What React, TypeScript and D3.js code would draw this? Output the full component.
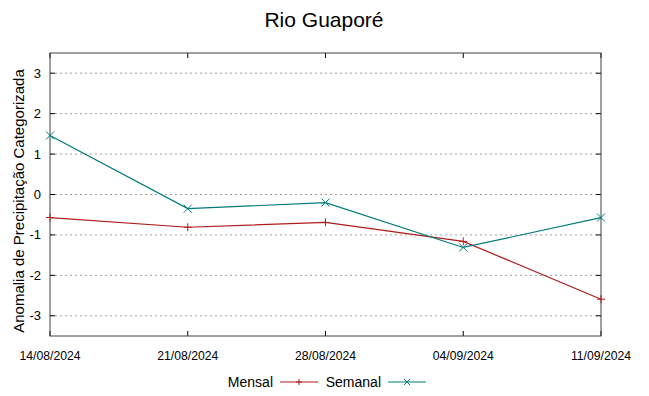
import React, { useEffect, useRef } from "react";
import * as d3 from "d3";

const dates = ["14/08/2024", "21/08/2024", "28/08/2024", "04/09/2024", "11/09/2024"];
const mensal = [-0.57, -0.81, -0.69, -1.16, -2.59];
const semanal = [1.46, -0.35, -0.2, -1.31, -0.57];
const yTicks = [-3, -2, -1, 0, 1, 2, 3];

const width = 649;
const height = 396;
const margin = { top: 53, left: 50, bottom: 60, right: 48 };

export default function App() {
  const ref = useRef<SVGSVGElement>(null);

  useEffect(() => {
    const svg = d3.select(ref.current);
    svg.selectAll("*").remove();

    const iwidth = width - margin.left - margin.right;
    const iheight = height - margin.top - margin.bottom;
    const g = svg.append("g").attr("transform", `translate(${margin.left},${margin.top})`);

    const x = d3.scalePoint().domain(dates).range([0, iwidth]);
    const y = d3.scaleLinear().domain([-3.5, 3.5]).range([iheight, 0]);

    // grid
    g.selectAll("line.grid")
      .data(yTicks)
      .enter()
      .append("line")
      .attr("x1", 0)
      .attr("x2", iwidth)
      .attr("y1", (d) => y(d))
      .attr("y2", (d) => y(d))
      .attr("stroke", "#a0a0a0")
      .attr("stroke-width", 1)
      .attr("stroke-dasharray", "2,3");

    // ticks (inward, mirrored)
    const tk = 5;
    yTicks.forEach((d) => {
      g.append("line").attr("x1", 0).attr("x2", tk).attr("y1", y(d)).attr("y2", y(d)).attr("stroke", "#000");
      g.append("line").attr("x1", iwidth - tk).attr("x2", iwidth).attr("y1", y(d)).attr("y2", y(d)).attr("stroke", "#000");
    });
    dates.forEach((d) => {
      g.append("line").attr("x1", x(d)!).attr("x2", x(d)!).attr("y1", iheight).attr("y2", iheight - tk).attr("stroke", "#000");
      g.append("line").attr("x1", x(d)!).attr("x2", x(d)!).attr("y1", 0).attr("y2", tk).attr("stroke", "#000");
    });

    // border
    g.append("rect")
      .attr("x", 0)
      .attr("y", 0)
      .attr("width", iwidth)
      .attr("height", iheight)
      .attr("fill", "none")
      .attr("stroke", "#404040")
      .attr("stroke-width", 1);

    // tick labels
    g.selectAll("text.ylab")
      .data(yTicks)
      .enter()
      .append("text")
      .attr("x", -9)
      .attr("y", (d) => y(d))
      .attr("dy", "0.35em")
      .attr("text-anchor", "end")
      .attr("font-family", "Liberation Sans, Arial, sans-serif")
      .attr("font-size", 13)
      .text((d) => d);

    g.selectAll("text.xlab")
      .data(dates)
      .enter()
      .append("text")
      .attr("x", (d) => x(d)!)
      .attr("y", iheight + 24)
      .attr("text-anchor", "middle")
      .attr("font-family", "Liberation Sans Narrow, Liberation Sans, Arial, sans-serif")
      .attr("font-size", 12.2)
      .text((d) => d);

    const line = d3
      .line<number>()
      .x((_, i) => x(dates[i])!)
      .y((d) => y(d));

    const series = [
      { name: "Mensal", values: mensal, color: "#b01c1c", marker: "plus" },
      { name: "Semanal", values: semanal, color: "#007b7b", marker: "cross" },
    ];

    const drawMarker = (sel: any, cx: number, cy: number, kind: string, color: string, s = 4) => {
      if (kind === "plus") {
        sel.append("line").attr("x1", cx - s).attr("x2", cx + s).attr("y1", cy).attr("y2", cy).attr("stroke", color);
        sel.append("line").attr("x1", cx).attr("x2", cx).attr("y1", cy - s).attr("y2", cy + s).attr("stroke", color);
      } else {
        sel.append("line").attr("x1", cx - s).attr("x2", cx + s).attr("y1", cy - s).attr("y2", cy + s).attr("stroke", color);
        sel.append("line").attr("x1", cx - s).attr("x2", cx + s).attr("y1", cy + s).attr("y2", cy - s).attr("stroke", color);
      }
    };

    series.forEach((s) => {
      g.append("path")
        .datum(s.values)
        .attr("d", line)
        .attr("fill", "none")
        .attr("stroke", s.color)
        .attr("stroke-width", 1.2);
      s.values.forEach((v, i) => drawMarker(g, x(dates[i])!, y(v), s.marker, s.color));
    });

    // title
    svg.append("text")
      .attr("x", 324)
      .attr("y", 27)
      .attr("text-anchor", "middle")
      .attr("font-family", "Liberation Sans, Arial, sans-serif")
      .attr("font-size", 21)
      .text("Rio Guaporé");

    // y label
    svg.append("text")
      .attr("transform", `translate(24,${201}) rotate(-90)`)
      .attr("text-anchor", "middle")
      .attr("font-family", "Liberation Sans, Arial, sans-serif")
      .attr("font-size", 15)
      .text("Anomalia de Precipitação Categorizada");

    // legend
    const ly = 382;
    const leg = svg.append("g");
    const items = [
      { label: "Mensal", textEnd: 273, x1: 280, x2: 318, ...series[0] },
      { label: "Semanal", textEnd: 381, x1: 388, x2: 426, ...series[1] },
    ];
    items.forEach((it) => {
      leg.append("text")
        .attr("x", it.textEnd)
        .attr("y", ly)
        .attr("dy", "0.35em")
        .attr("text-anchor", "end")
        .attr("font-family", "Liberation Sans, Arial, sans-serif")
        .attr("font-size", 14)
        .text(it.label);
      leg.append("line")
        .attr("x1", it.x1)
        .attr("x2", it.x2)
        .attr("y1", ly)
        .attr("y2", ly)
        .attr("stroke", it.color)
        .attr("stroke-width", 1.2);
      drawMarker(leg, (it.x1 + it.x2) / 2, ly, it.marker, it.color, 3);
    });
  }, []);

  return (
    <svg
      ref={ref}
      width={width}
      height={height}
      style={{ position: "absolute", left: 0, top: 0, background: "#fff" }}
    />
  );
}
